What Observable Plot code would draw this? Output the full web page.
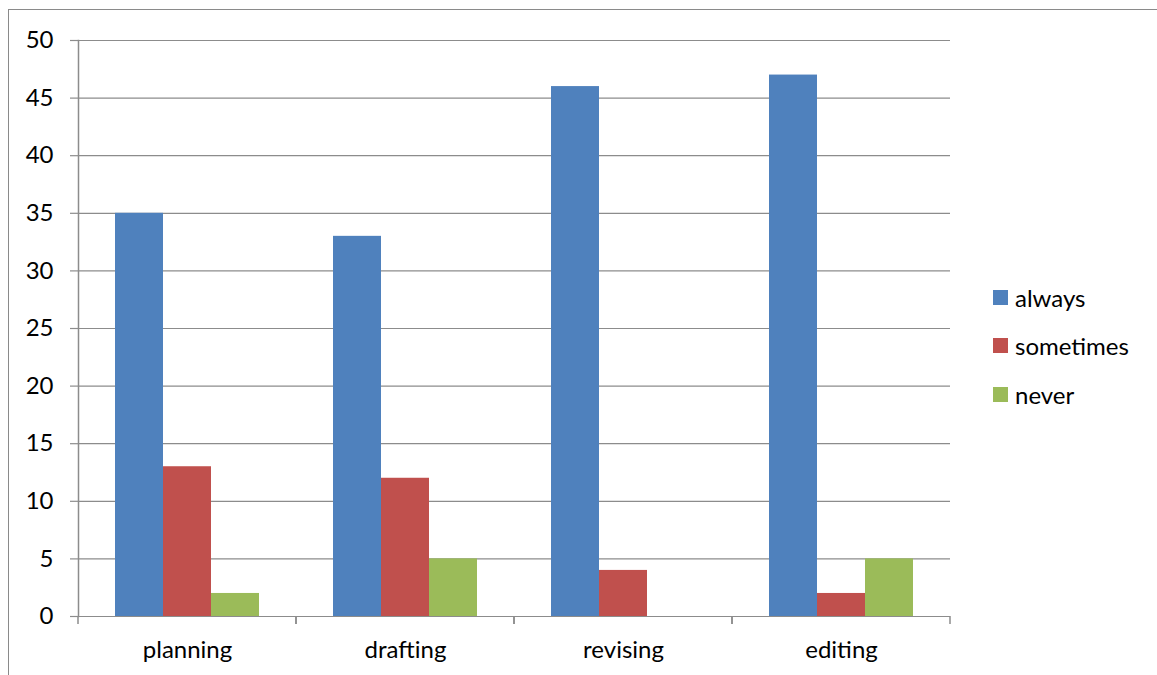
<!DOCTYPE html>
<html><head><meta charset="utf-8">
<script src="https://cdn.jsdelivr.net/npm/d3@7"></script>
<script src="https://cdn.jsdelivr.net/npm/@observablehq/plot@0.6"></script>
<style>
body{margin:0;background:#fff;font-family:Lato,sans-serif}
#wrap{position:relative;width:1157px;height:675px;overflow:hidden;background:#fff}
#border{position:absolute;left:8px;top:9px;width:1200px;height:700px;border-left:1.5px solid #8a8a8a;border-top:1.5px solid #8a8a8a;z-index:2;pointer-events:none}
#chart{position:absolute;left:0;top:0;z-index:1}
#legend{position:absolute;left:993px;top:273px;font-size:24px;color:#000;z-index:3}
.item{display:flex;align-items:center;height:48.5px}
.sw{width:15px;height:15px;margin-right:7px}
</style></head>
<body>
<div id="wrap"><div id="border"></div><div id="chart"></div><div id="legend"></div></div>
<script>
const categories = ["planning", "drafting", "revising", "editing"];
const series = ["always", "sometimes", "never"];
const always = [35, 33, 46, 47];
const sometimes = [13, 12, 4, 2];
const never = [2, 5, 0, 5];
const yTicks = [0, 5, 10, 15, 20, 25, 30, 35, 40, 45, 50];
const colors = ["#4F81BD", "#C0504D", "#9BBB59"];

const seriesValues = {always, sometimes, never};
const data = categories.flatMap((c, i) => series.map(s => ({category: c, series: s, value: seriesValues[s][i]})));

function boundaryTicks(index, scales, values, dimensions) {
  const x0 = dimensions.marginLeft, x1 = dimensions.width - dimensions.marginRight;
  const y0 = scales.y(0);
  const g = d3.create("svg:g").attr("stroke", "#8c8c8c").attr("stroke-width", 1.5);
  for (const x of [x0, x1]) g.append("line").attr("x1", x).attr("x2", x).attr("y1", y0).attr("y2", y0 + 8);
  return g.node();
}

const chart = Plot.plot({
  width: 1157, height: 675,
  marginLeft: 77, marginRight: 207, marginTop: 40, marginBottom: 59,
  style: {fontFamily: "Lato, sans-serif", fontSize: "24px", color: "#000", background: "transparent"},
  fx: {domain: categories, padding: 0, label: null},
  x: {domain: series, paddingInner: 0, paddingOuter: 0.75, axis: null},
  y: {domain: [0, 50], label: null},
  color: {domain: series, range: colors},
  marks: [
    Plot.gridY(yTicks, {stroke: "#8c8c8c", strokeOpacity: 1, strokeWidth: 1.2}),
    Plot.barY(data, {fx: "category", x: "series", y: "value", fill: "series"}),
    Plot.frame({anchor: "left", facetAnchor: "left", stroke: "#8c8c8c", strokeWidth: 1.5}),
    Plot.axisY(yTicks, {tickSize: 8, tickPadding: 17, stroke: "#8c8c8c", strokeWidth: 1.2, fill: "#000", label: null, fontSize: 24}),
    Plot.axisFx({anchor: "bottom", tickSize: 0, tickPadding: 24, label: null, fontSize: 24, fill: "#000"}),
    boundaryTicks
  ]
});
document.getElementById("chart").appendChild(chart);

const legend = document.getElementById("legend");
series.forEach((s, i) => {
  const item = document.createElement("div");
  item.className = "item";
  const sw = document.createElement("span");
  sw.className = "sw";
  sw.style.background = colors[i];
  const t = document.createElement("span");
  t.textContent = s;
  item.appendChild(sw); item.appendChild(t);
  legend.appendChild(item);
});
</script>
</body></html>
